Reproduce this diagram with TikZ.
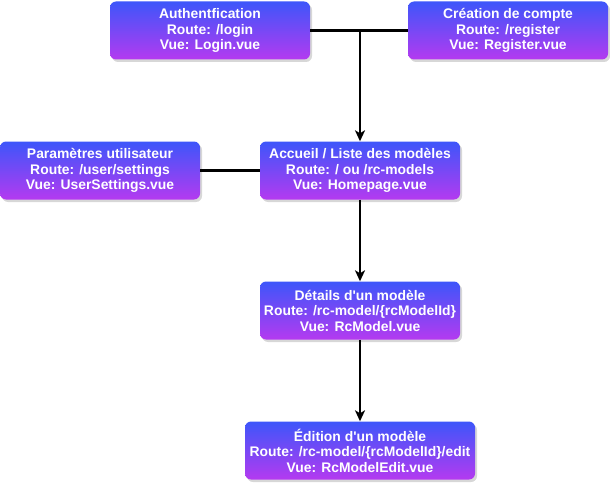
\documentclass[tikz,border=0pt]{standalone}
\usepackage{fontspec}
\setmainfont{Liberation Sans}
\usetikzlibrary{arrows.meta,shadows}

\definecolor{topblue}{RGB}{61,86,250}
\definecolor{bottompurple}{RGB}{180,58,240}

\tikzset{
  pagebox/.style={draw=none, rounded corners=6pt, top color=topblue, bottom color=bottompurple,
    text=white, align=center, inner sep=0pt, minimum width=200pt, minimum height=58pt,
    font=\bfseries\fontsize{13.9}{15.5}\selectfont,
    general shadow={fill=black!45, opacity=0.35, shadow xshift=2pt, shadow yshift=-2.5pt}},
  link/.style={line width=2.2pt, draw=black},
  goto/.style={link, -{Stealth[length=11pt,width=10pt,inset=3pt]}}
}

\begin{document}
\begin{tikzpicture}[x=1pt,y=1pt,yscale=-1,xscale=1]
    \useasboundingbox (0,0) rectangle (610,484);

    %Shape: Rounded Rectangle [id:auth]
    \node [pagebox] (auth) at (210,30.5) {Authentfication\\Route: /login\\Vue: Login.vue};
    %Shape: Rounded Rectangle [id:register]
    \node [pagebox] (register) at (508,30.5) {Création de compte\\Route: /register\\Vue: Register.vue};
    %Shape: Rounded Rectangle [id:settings]
    \node [pagebox] (settings) at (100,170.5) {Paramètres utilisateur\\Route: /user/settings\\Vue: UserSettings.vue};
    %Shape: Rounded Rectangle [id:home]
    \node [pagebox] (home) at (360,170.5) {Accueil / Liste des modèles\\Route: / ou /rc-models\\Vue: Homepage.vue};
    %Shape: Rounded Rectangle [id:details]
    \node [pagebox] (details) at (360,310.5) {Détails d\textquotesingle un modèle\\Route: /rc-model/\{rcModelId\}\\Vue: RcModel.vue};
    %Shape: Rounded Rectangle [id:edit]
    \node [pagebox, minimum width=230pt] (edit) at (360,450.5) {Édition d\textquotesingle un modèle\\Route: /rc-model/\{rcModelId\}/edit\\Vue: RcModelEdit.vue};

    \coordinate (join) at (360,30.5);

    %Straight Lines
    \draw [link] (auth) -- (register);
    \draw [link] (settings) -- (home);
    %Arrows
    \draw [goto] (join) -- (home);
    \draw [goto] (home) -- (details);
    \draw [goto] (details) -- (edit);
\end{tikzpicture}
\end{document}
